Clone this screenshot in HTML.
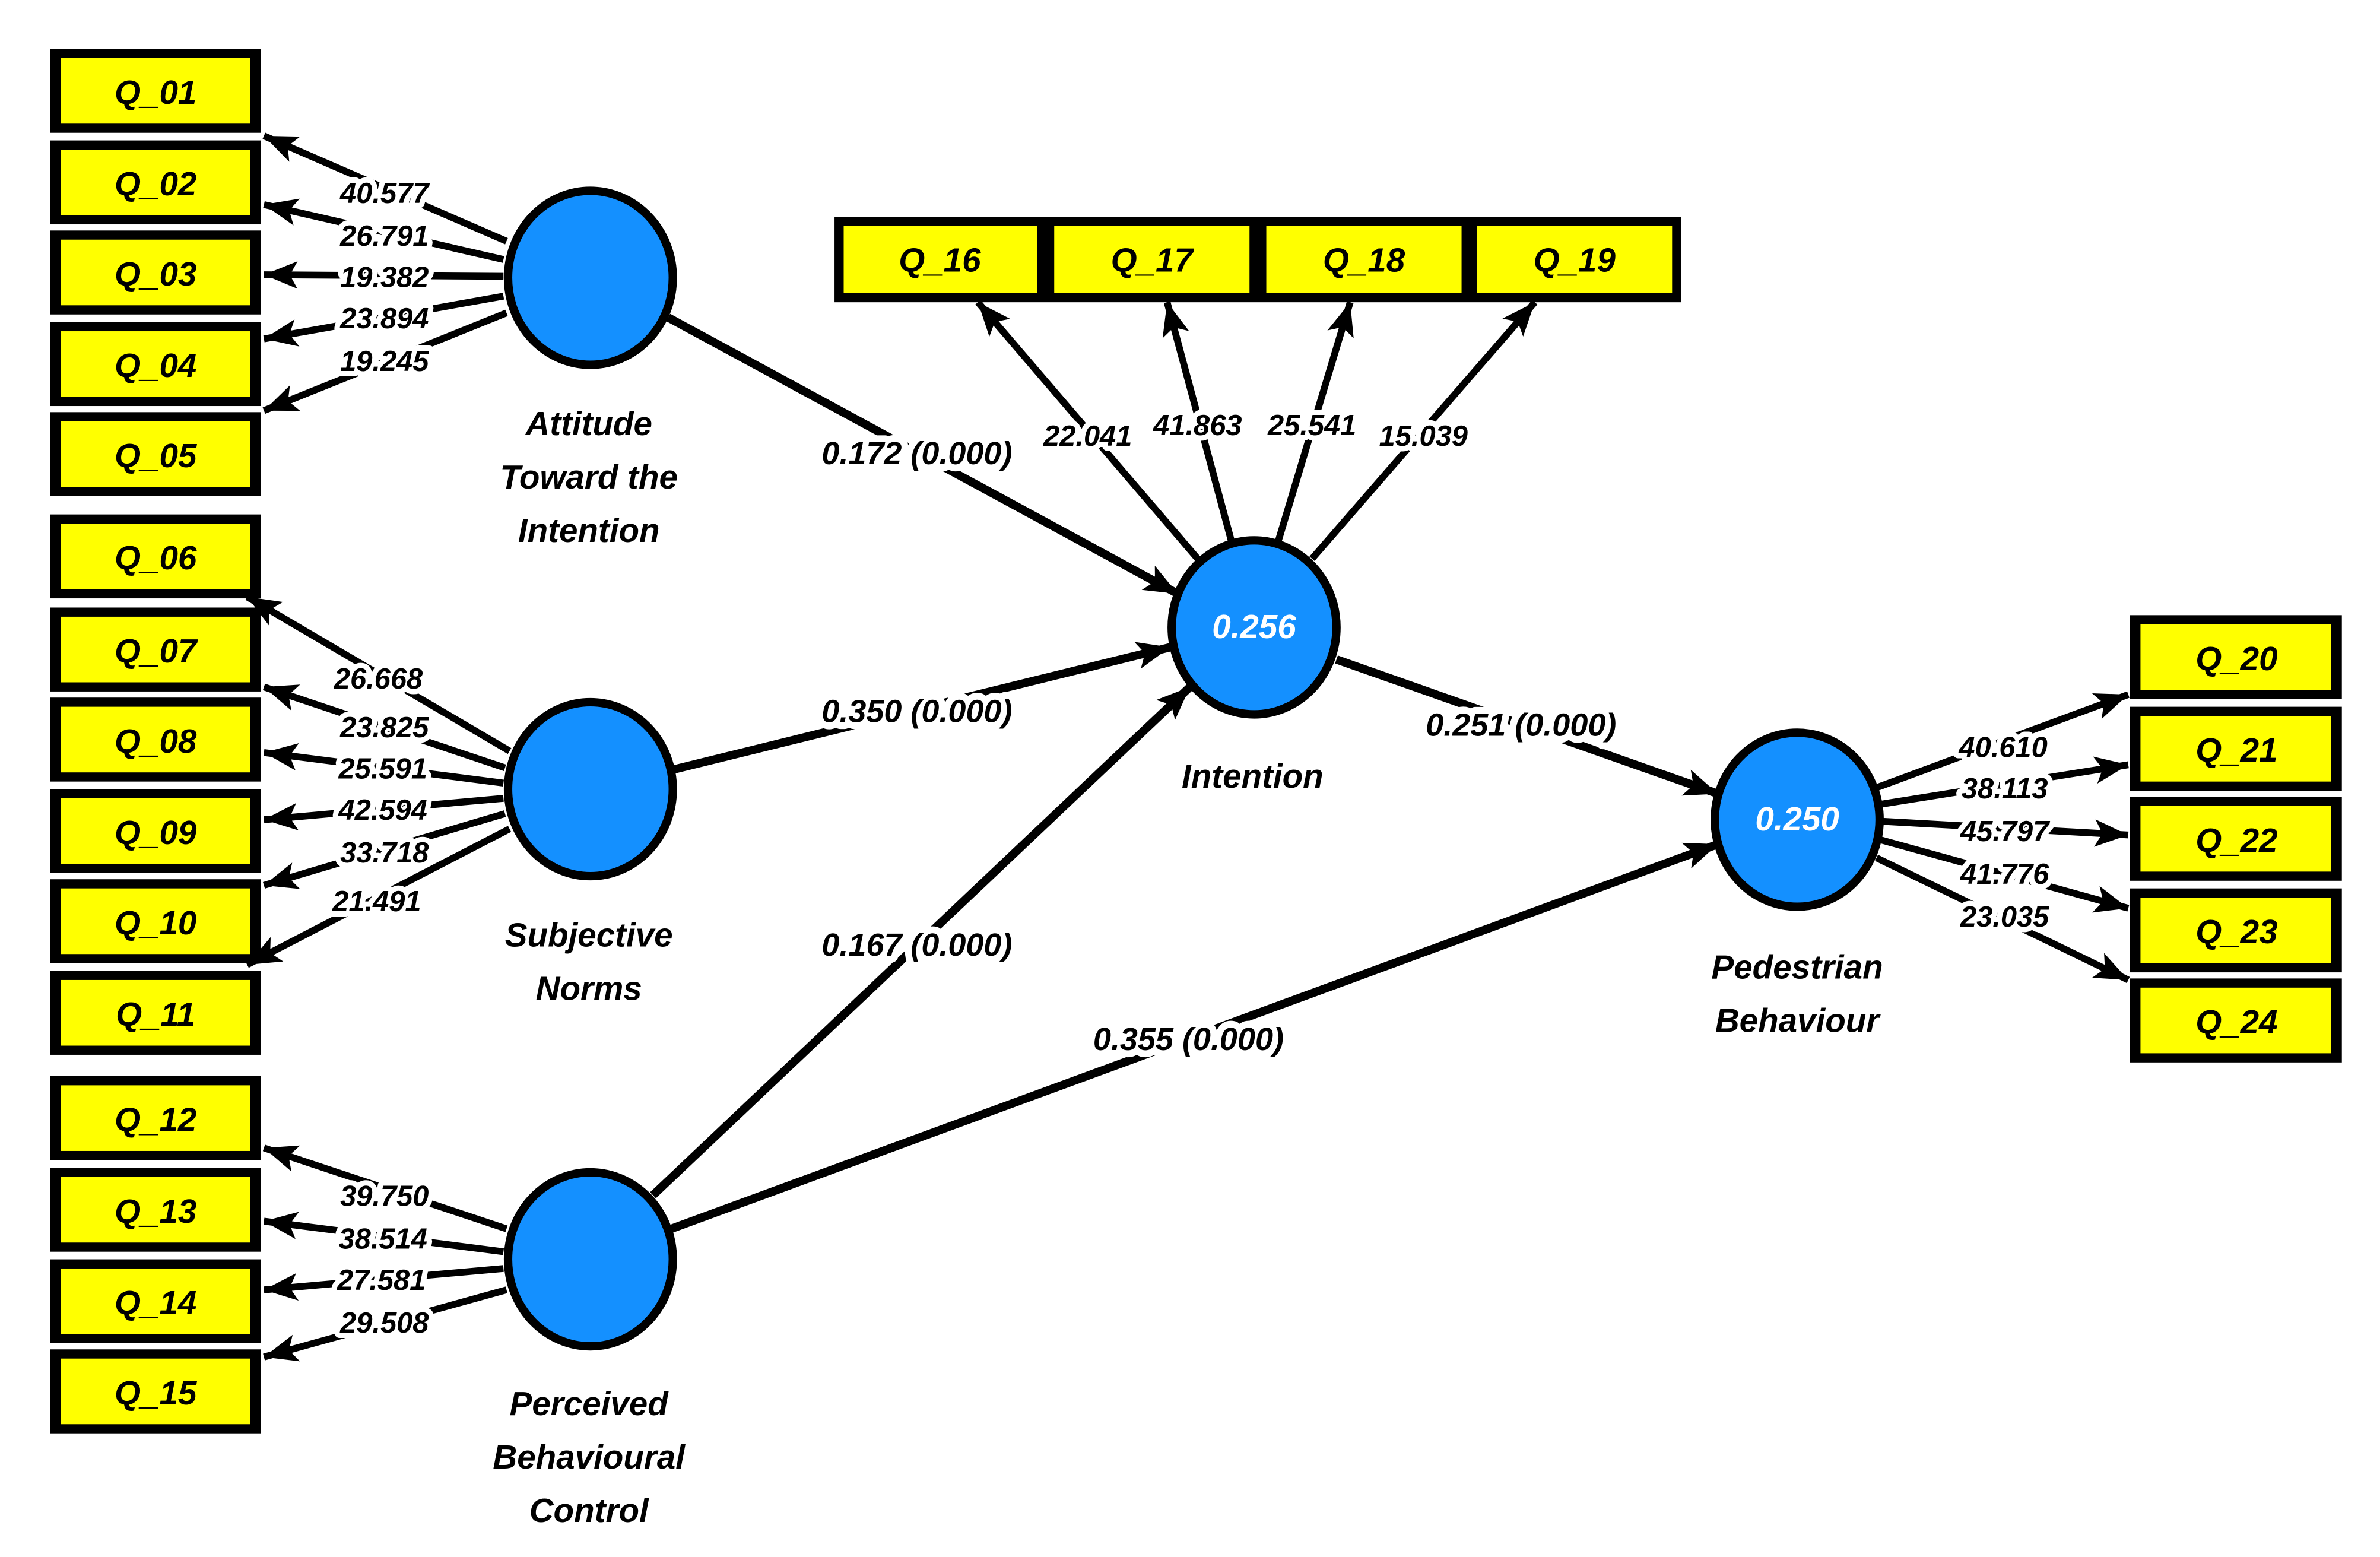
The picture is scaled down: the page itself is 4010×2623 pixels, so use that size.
<!DOCTYPE html>
<html><head><meta charset="utf-8"><style>
html,body{margin:0;padding:0;background:#fff}
svg{display:block}
.q{font:italic bold 22px "Liberation Sans",sans-serif;text-anchor:middle;fill:#000}
.n{font:italic bold 19px "Liberation Sans",sans-serif;text-anchor:middle;fill:#000;stroke:#fff;stroke-width:7;paint-order:stroke;stroke-linejoin:round}
.p{font:italic bold 21px "Liberation Sans",sans-serif;text-anchor:middle;fill:#000;stroke:#fff;stroke-width:9;paint-order:stroke;stroke-linejoin:round}
.l{font:italic bold 22px "Liberation Sans",sans-serif;text-anchor:middle;fill:#000}
.r{font:italic bold 22px "Liberation Sans",sans-serif;text-anchor:middle;fill:#fff}
line{stroke:#000;stroke-width:4.5}
.t{stroke-width:5.5}
</style></head><body>
<svg width="4010" height="2623" viewBox="0 0 1560 1020" preserveAspectRatio="none" xmlns="http://www.w3.org/2000/svg">
<defs>
<marker id="a" markerUnits="userSpaceOnUse" markerWidth="24" markerHeight="20" refX="22" refY="9" orient="auto"><path d="M0,0 L22,9 L0,18 L5,9 z" fill="#000"/></marker>
</defs>
<g id="boxes">
<!-- left column -->
<g>
<rect x="33" y="32" width="138" height="55"/><rect x="40" y="38" width="124" height="43" fill="#ff0"/><text class="q" x="102" y="68">Q_01</text>
<rect x="33" y="92" width="138" height="55"/><rect x="40" y="98" width="124" height="43" fill="#ff0"/><text class="q" x="102" y="128">Q_02</text>
<rect x="33" y="151" width="138" height="55"/><rect x="40" y="157" width="124" height="43" fill="#ff0"/><text class="q" x="102" y="187">Q_03</text>
<rect x="33" y="211" width="138" height="55"/><rect x="40" y="217" width="124" height="43" fill="#ff0"/><text class="q" x="102" y="247">Q_04</text>
<rect x="33" y="270" width="138" height="55"/><rect x="40" y="276" width="124" height="43" fill="#ff0"/><text class="q" x="102" y="306">Q_05</text>

<rect x="33" y="337" width="138" height="55"/><rect x="40" y="343" width="124" height="43" fill="#ff0"/><text class="q" x="102" y="373">Q_06</text>
<rect x="33" y="398" width="138" height="55"/><rect x="40" y="404" width="124" height="43" fill="#ff0"/><text class="q" x="102" y="434">Q_07</text>
<rect x="33" y="457" width="138" height="55"/><rect x="40" y="463" width="124" height="43" fill="#ff0"/><text class="q" x="102" y="493">Q_08</text>
<rect x="33" y="517" width="138" height="55"/><rect x="40" y="523" width="124" height="43" fill="#ff0"/><text class="q" x="102" y="553">Q_09</text>
<rect x="33" y="576" width="138" height="55"/><rect x="40" y="582" width="124" height="43" fill="#ff0"/><text class="q" x="102" y="612">Q_10</text>
<rect x="33" y="636" width="138" height="55"/><rect x="40" y="642" width="124" height="43" fill="#ff0"/><text class="q" x="102" y="672">Q_11</text>

<rect x="33" y="705" width="138" height="55"/><rect x="40" y="711" width="124" height="43" fill="#ff0"/><text class="q" x="102" y="741">Q_12</text>
<rect x="33" y="765" width="138" height="55"/><rect x="40" y="771" width="124" height="43" fill="#ff0"/><text class="q" x="102" y="801">Q_13</text>
<rect x="33" y="825" width="138" height="55"/><rect x="40" y="831" width="124" height="43" fill="#ff0"/><text class="q" x="102" y="861">Q_14</text>
<rect x="33" y="884" width="138" height="55"/><rect x="40" y="890" width="124" height="43" fill="#ff0"/><text class="q" x="102" y="920">Q_15</text>
</g>
<!-- top -->
<rect x="547" y="142" width="555" height="56"/>
<rect x="553" y="148" width="127" height="44" fill="#ff0"/><text class="q" x="616" y="178">Q_16</text>
<rect x="691" y="148" width="128" height="44" fill="#ff0"/><text class="q" x="755" y="178">Q_17</text>
<rect x="830" y="148" width="128" height="44" fill="#ff0"/><text class="q" x="894" y="178">Q_18</text>
<rect x="968" y="148" width="128" height="44" fill="#ff0"/><text class="q" x="1032" y="178">Q_19</text>
<!-- right -->
<rect x="1396" y="403" width="139" height="55"/><rect x="1403" y="409" width="125" height="43" fill="#ff0"/><text class="q" x="1466" y="439">Q_20</text>
<rect x="1396" y="463" width="139" height="55"/><rect x="1403" y="469" width="125" height="43" fill="#ff0"/><text class="q" x="1466" y="499">Q_21</text>
<rect x="1396" y="522" width="139" height="55"/><rect x="1403" y="528" width="125" height="43" fill="#ff0"/><text class="q" x="1466" y="558">Q_22</text>
<rect x="1396" y="582" width="139" height="55"/><rect x="1403" y="588" width="125" height="43" fill="#ff0"/><text class="q" x="1466" y="618">Q_23</text>
<rect x="1396" y="641" width="139" height="55"/><rect x="1403" y="647" width="125" height="43" fill="#ff0"/><text class="q" x="1466" y="677">Q_24</text>
</g>

<!-- ATI indicators -->
<line x1="332" y1="158" x2="173" y2="89" marker-end="url(#a)"/>
<line x1="330" y1="170" x2="173" y2="134" marker-end="url(#a)"/>
<line x1="330" y1="181" x2="173" y2="180" marker-end="url(#a)"/>
<line x1="330" y1="194" x2="173" y2="222" marker-end="url(#a)"/>
<line x1="332" y1="205" x2="173" y2="269" marker-end="url(#a)"/>
<!-- SN indicators -->
<line x1="334" y1="492" x2="162" y2="391" marker-end="url(#a)"/>
<line x1="331" y1="503" x2="173" y2="450" marker-end="url(#a)"/>
<line x1="330" y1="513" x2="173" y2="493" marker-end="url(#a)"/>
<line x1="330" y1="523" x2="173" y2="537" marker-end="url(#a)"/>
<line x1="331" y1="533" x2="173" y2="580" marker-end="url(#a)"/>
<line x1="334" y1="543" x2="162" y2="632" marker-end="url(#a)"/>
<!-- PBC indicators -->
<line x1="332" y1="805" x2="173" y2="752" marker-end="url(#a)"/>
<line x1="330" y1="820" x2="173" y2="800" marker-end="url(#a)"/>
<line x1="330" y1="831" x2="173" y2="845" marker-end="url(#a)"/>
<line x1="332" y1="845" x2="173" y2="889" marker-end="url(#a)"/>
<!-- Intention indicators -->
<line x1="785" y1="366" x2="641" y2="198" marker-end="url(#a)"/>
<line x1="807" y1="354" x2="765" y2="198" marker-end="url(#a)"/>
<line x1="838" y1="354" x2="885" y2="198" marker-end="url(#a)"/>
<line x1="860" y1="366" x2="1006" y2="198" marker-end="url(#a)"/>
<!-- PB indicators -->
<line x1="1230" y1="516" x2="1395" y2="455" marker-end="url(#a)"/>
<line x1="1232" y1="527" x2="1395" y2="501" marker-end="url(#a)"/>
<line x1="1233" y1="538" x2="1395" y2="547" marker-end="url(#a)"/>
<line x1="1232" y1="550" x2="1395" y2="595" marker-end="url(#a)"/>
<line x1="1230" y1="562" x2="1395" y2="642" marker-end="url(#a)"/>

<!-- structural -->
<line class="t" x1="438" y1="208" x2="772" y2="389" marker-end="url(#a)"/>
<line class="t" x1="442" y1="504" x2="767" y2="424" marker-end="url(#a)"/>
<line class="t" x1="428" y1="783" x2="780" y2="450" marker-end="url(#a)"/>
<line class="t" x1="440" y1="805" x2="1126" y2="553" marker-end="url(#a)"/>
<line class="t" x1="876" y1="432" x2="1126" y2="520" marker-end="url(#a)"/>

<!-- circles -->
<ellipse cx="387" cy="182" rx="54" ry="57" fill="#1490ff" stroke="#000" stroke-width="5.5"/>
<ellipse cx="387" cy="517" rx="54" ry="57" fill="#1490ff" stroke="#000" stroke-width="5.5"/>
<ellipse cx="387" cy="825" rx="54" ry="57" fill="#1490ff" stroke="#000" stroke-width="5.5"/>
<ellipse cx="822" cy="411" rx="54" ry="57" fill="#1490ff" stroke="#000" stroke-width="5.5"/>
<ellipse cx="1178" cy="537" rx="54" ry="57" fill="#1490ff" stroke="#000" stroke-width="5.5"/>
<text class="r" x="822" y="418">0.256</text>
<text class="r" x="1178" y="544">0.250</text>

<!-- loading labels -->
<text class="n" x="252" y="133">40.577</text>
<text class="n" x="252" y="161">26.791</text>
<text class="n" x="252" y="188">19.382</text>
<text class="n" x="252" y="215">23.894</text>
<text class="n" x="252" y="243">19.245</text>

<text class="n" x="248" y="451">26.668</text>
<text class="n" x="252" y="483">23.825</text>
<text class="n" x="251" y="510">25.591</text>
<text class="n" x="251" y="537">42.594</text>
<text class="n" x="252" y="565">33.718</text>
<text class="n" x="247" y="597">21.491</text>

<text class="n" x="252" y="790">39.750</text>
<text class="n" x="251" y="818">38.514</text>
<text class="n" x="250" y="845">27.581</text>
<text class="n" x="252" y="873">29.508</text>

<text class="n" x="713" y="292">22.041</text>
<text class="n" x="785" y="285">41.863</text>
<text class="n" x="860" y="285">25.541</text>
<text class="n" x="933" y="292">15.039</text>

<text class="n" x="1313" y="496">40.610</text>
<text class="n" x="1314" y="523">38.113</text>
<text class="n" x="1314" y="551">45.797</text>
<text class="n" x="1314" y="579">41.776</text>
<text class="n" x="1314" y="607">23.035</text>

<text class="p" x="601" y="304">0.172 (0.000)</text>
<text class="p" x="601" y="473">0.350 (0.000)</text>
<text class="p" x="601" y="626">0.167 (0.000)</text>
<text class="p" x="779" y="688">0.355 (0.000)</text>
<text class="p" x="997" y="482">0.251 (0.000)</text>

<!-- construct labels -->
<text class="l" x="386" y="285">Attitude</text>
<text class="l" x="386" y="320">Toward the</text>
<text class="l" x="386" y="355">Intention</text>
<text class="l" x="386" y="620">Subjective</text>
<text class="l" x="386" y="655">Norms</text>
<text class="l" x="386" y="927">Perceived</text>
<text class="l" x="386" y="962">Behavioural</text>
<text class="l" x="386" y="997">Control</text>
<text class="l" x="821" y="516">Intention</text>
<text class="l" x="1178" y="641">Pedestrian</text>
<text class="l" x="1178" y="676">Behaviour</text>
</svg>
</body></html>
